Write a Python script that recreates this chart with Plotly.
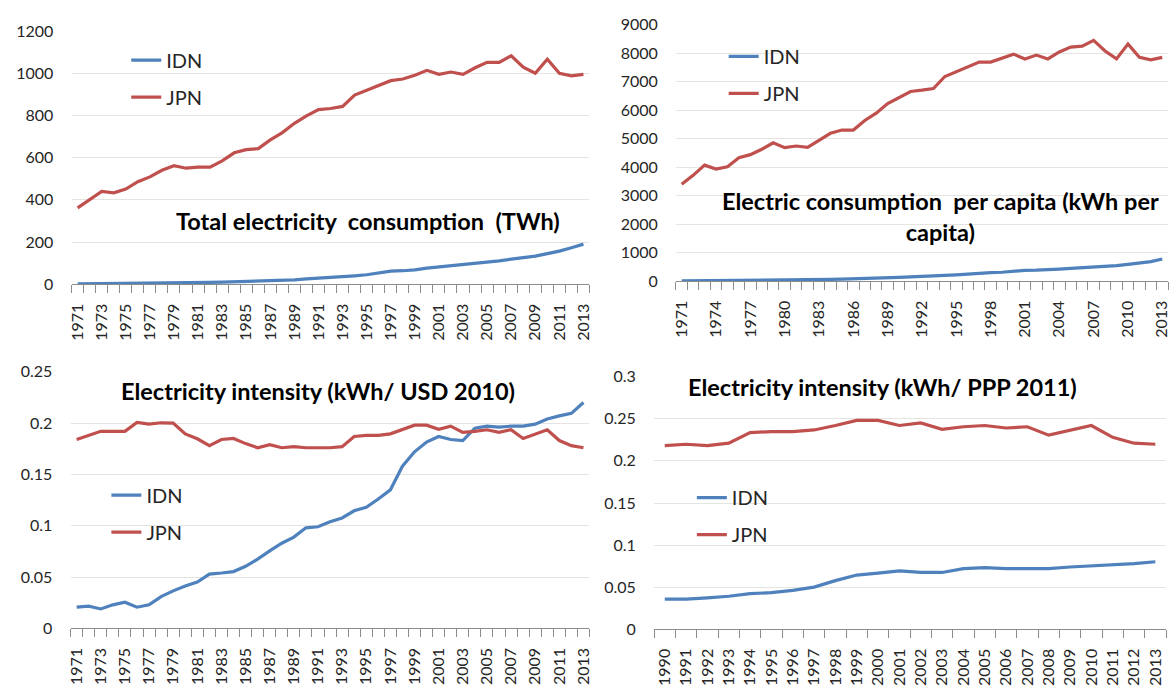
import plotly.graph_objects as go

# ---------------- data ----------------
years_long = list(range(1971, 2014))
years_short = list(range(1990, 2014))

total_idn = [1.8, 2.1, 2.4, 2.8, 3.2, 3.6, 4.0, 4.8, 5.5, 6.5, 7.5, 8.5, 9.5, 11, 12.5, 14,
             16, 18, 21, 25, 28, 31, 35, 40, 45, 52, 62, 64, 68, 76, 82, 86, 91, 99, 105,
             111, 119, 126, 133, 145, 157, 173, 190]
total_jpn = [362, 403, 440, 433, 451, 486, 509, 540, 562, 550, 555, 555, 585, 623, 638, 643,
             684, 719, 763, 798, 828, 833, 843, 897, 919, 942, 965, 973, 991, 1014, 995,
             1006, 995, 1026, 1052, 1052, 1083, 1029, 1000, 1067, 1000, 988, 995]

percap_idn = [15, 17, 19, 22, 24, 27, 30, 35, 39, 45, 51, 57, 62, 70, 77, 85, 95, 105, 118,
              138, 152, 163, 180, 205, 228, 258, 300, 305, 318, 352, 385, 390, 400, 427,
              450, 470, 500, 525, 550, 595, 635, 690, 780]
percap_jpn = [3400, 3714, 4072, 3937, 4016, 4329, 4441, 4631, 4855, 4687, 4743, 4698, 4944,
              5190, 5302, 5302, 5638, 5895, 6230, 6454, 6655, 6700, 6756, 7181, 7349, 7517,
              7685, 7685, 7830, 7964, 7796, 7930, 7796, 8042, 8210, 8244, 8445, 8076, 7796,
              8322, 7852, 7763, 7852]

usd_idn = [0.0207, 0.0217, 0.019, 0.023, 0.0255, 0.0207, 0.023, 0.031, 0.0366, 0.0414,
           0.0452, 0.053, 0.054, 0.0554, 0.0605, 0.0675, 0.0755, 0.083, 0.089, 0.098, 0.099,
           0.104, 0.1076, 0.1146, 0.118, 0.126, 0.135, 0.158, 0.172, 0.1815, 0.187, 0.184,
           0.183, 0.195, 0.197, 0.196, 0.197, 0.197, 0.199, 0.204, 0.207, 0.2095, 0.220]
usd_jpn = [0.184, 0.188, 0.192, 0.192, 0.192, 0.2006, 0.199, 0.2003, 0.200, 0.1895, 0.1847,
           0.178, 0.184, 0.185, 0.180, 0.176, 0.179, 0.176, 0.177, 0.176, 0.176, 0.176,
           0.177, 0.187, 0.188, 0.188, 0.1895, 0.194, 0.198, 0.198, 0.194, 0.197, 0.191,
           0.192, 0.1935, 0.191, 0.1935, 0.185, 0.1895, 0.1935, 0.183, 0.178, 0.176]

ppp_idn = [0.0359, 0.0359, 0.0375, 0.0394, 0.0425, 0.0436, 0.0463, 0.0502, 0.0579, 0.0645,
           0.0668, 0.0695, 0.0676, 0.0676, 0.0722, 0.0734, 0.0722, 0.0722, 0.0722, 0.0741,
           0.0753, 0.0764, 0.078, 0.0803]
ppp_jpn = [0.218, 0.2197, 0.218, 0.221, 0.2336, 0.2347, 0.2347, 0.2367, 0.242, 0.248, 0.248,
           0.242, 0.245, 0.2375, 0.2405, 0.242, 0.239, 0.2405, 0.2305, 0.2367, 0.242, 0.228,
           0.221, 0.2197]

series_names = ["IDN", "JPN"]
titles = ["Total electricity  consumption  (TWh)",
          "Electric consumption  per capita (kWh per<br>capita)",
          "Electricity intensity (kWh/ USD 2010)",
          "Electricity intensity (kWh/ PPP 2011)"]

# ---------------- style ----------------
W, H = 1171, 689
BLUE = "#4f81bd"
RED = "#c0504d"
GRID = "#e6e4de"
AXIS = "#8c8c8c"
TXT = "#262626"
FONT = "Lato"


def px_x(p):
    return p / W


def px_y(p):
    return (H - p) / H


# panel boxes in pixels: (left, right, top, bottom)
boxes = [(67, 588, 21.7, 282), (675, 1170, 15, 279), (66, 588, 372, 636), (653, 1168, 377, 637)]
yranges = [[0, 1200], [0, 9000], [0, 0.25], [0, 0.3]]
ydticks = [200, 1000, 0.05, 0.05]
yfmts = ["d", "d", "", ""]
xyears = [years_long, years_long, years_long, years_short]
xstep = [2, 3, 2, 1]
data = [(total_idn, total_jpn), (percap_idn, percap_jpn), (usd_idn, usd_jpn), (ppp_idn, ppp_jpn)]
legend_pos = [(122, 70.5), (723, 66.7), (102, 518), (691, 520.5)]
title_pos = [(0.573, 300), (0.538, 2260), (0.477, 0.231), (0.447, 0.2876)]

fig = go.Figure()
layout = dict(
    width=W, height=H, margin=dict(l=0, r=0, t=0, b=0),
    paper_bgcolor="white", plot_bgcolor="white",
    font=dict(family=FONT, color=TXT, size=16),
    annotations=[], showlegend=True,
)

for i in range(4):
    n = "" if i == 0 else str(i + 1)
    xa, ya = "x" + n, "y" + n
    lg = "legend" + n
    yrs = xyears[i]
    for s, (vals, col) in enumerate(zip(data[i], [BLUE, RED])):
        fig.add_trace(go.Scatter(
            x=yrs, y=vals, mode="lines", name=series_names[s],
            line=dict(color=col, width=3.2), xaxis=xa, yaxis=ya,
            legend=lg, legendgroup=f"{series_names[s]}{i}", hoverinfo="skip",
        ))
    l, r, t, b = boxes[i]
    labels = yrs[::xstep[i]]
    bounds = [y - 0.5 for y in yrs] + [yrs[-1] + 0.5]
    layout["xaxis" + n] = dict(
        domain=[px_x(l), px_x(r)], anchor=ya,
        range=[yrs[0] - 0.5, yrs[-1] + 0.5],
        tickmode="array", tickvals=labels, ticktext=[str(v) for v in labels],
        tickangle=-90, ticks="outside", ticklen=12, tickcolor="rgba(0,0,0,0)",
        tickfont=dict(size=16, color=TXT, family=FONT),
        showgrid=False, zeroline=False, showline=True, linecolor=AXIS, linewidth=1,
        minor=dict(tickmode="array", tickvals=bounds, ticks="outside", ticklen=8,
                   tickcolor=AXIS, showgrid=False),
        fixedrange=True,
    )
    layout["yaxis" + n] = dict(
        domain=[px_y(b), px_y(t)], anchor=xa, range=yranges[i], dtick=ydticks[i],
        tick0=0, tickformat=yfmts[i], showgrid=True, gridcolor=GRID, gridwidth=1,
        zeroline=False, showline=False, ticks="outside", ticklen=14,
        tickcolor="rgba(0,0,0,0)", tickfont=dict(size=16, color=TXT, family=FONT),
        fixedrange=True,
    )
    lx, ly = legend_pos[i]
    layout[lg] = dict(
        x=px_x(lx), y=px_y(ly), xanchor="left", yanchor="middle",
        bgcolor="rgba(0,0,0,0)", font=dict(size=20, color=TXT, family=FONT),
        tracegroupgap=8, borderwidth=0,
    )
    tx, ty = title_pos[i]
    layout["annotations"].append(dict(
        text=f"<b>{titles[i]}</b>", xref=xa + " domain", yref=ya, x=tx, y=ty,
        xanchor="center", yanchor="middle", showarrow=False,
        font=dict(size=23.5, color="black", family=FONT), align="center",
    ))

fig.update_layout(**layout)
fig.write_html(
    "out.html",
    config={"displayModeBar": False},
    post_script="document.body.style.margin='0';document.body.style.overflow='hidden';",
)
